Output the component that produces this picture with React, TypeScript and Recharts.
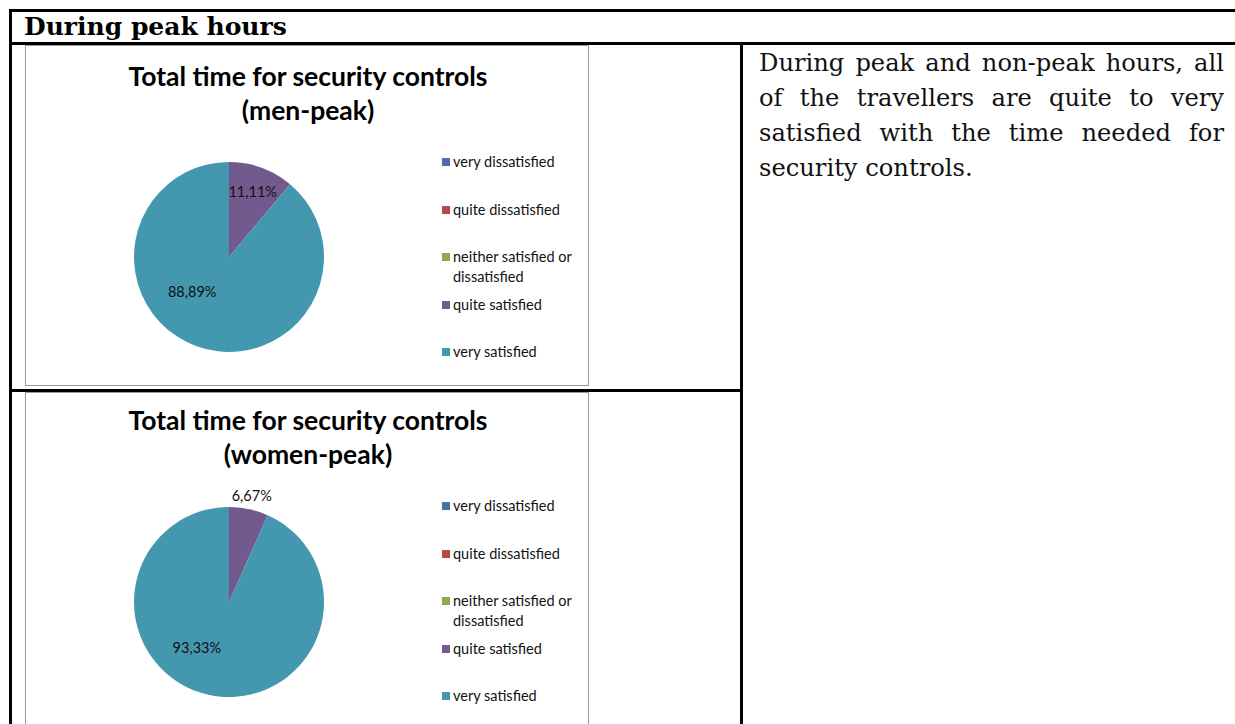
import React from "react";
import { PieChart, Pie, Cell, Legend } from "recharts";

const categories = [
  "very dissatisfied",
  "quite dissatisfied",
  "neither satisfied or dissatisfied",
  "quite satisfied",
  "very satisfied",
];
const menPeak = [0, 0, 0, 11.11, 88.89];
const womenPeak = [0, 0, 0, 6.67, 93.33];
const sliceColors = ["#4A70A8", "#B24744", "#8DAA52", "#725A8F", "#4398B0"];

const RAD = Math.PI / 180;
const calibri = "Lato, 'Open Sans', sans-serif";

type Spot = { angle?: number; radius: number };

const fmt = (v: number) => v.toFixed(2).replace(".", ",") + "%";

// keep legend in the data order (Excel style), not alphabetical
const LegendBox = (props: any) => {
  const payload = [...(props.payload || [])].sort(
    (a: any, b: any) => categories.indexOf(a.value) - categories.indexOf(b.value)
  );
  return (
    <div>
      {payload.map((entry: any) => (
        <div key={entry.value} style={{ height: 47.5, display: "flex", alignItems: "flex-start" }}>
          <span
            style={{ width: 8, height: 8, background: entry.color, marginTop: 6, marginRight: 3, flex: "none" }}
          />
          <span style={{ lineHeight: "19.5px", width: 130 }}>{entry.value}</span>
        </div>
      ))}
    </div>
  );
};

const ChartPanel = ({
  top,
  subtitle,
  values,
  titleTop,
  legendTop,
  cy,
  spots,
}: {
  top: number;
  subtitle: string;
  values: number[];
  titleTop: number;
  legendTop: number;
  cy: number;
  spots: Record<number, Spot>;
}) => {
  const data = categories.map((name, i) => ({ name, value: values[i] }));

  const renderLabel = (p: any) => {
    if (!p.value) return null;
    const spot = spots[p.index];
    const angle = spot.angle ?? p.midAngle;
    const r = p.outerRadius * spot.radius;
    const x = p.cx + r * Math.cos(angle * RAD);
    const y = p.cy - r * Math.sin(angle * RAD);
    return (
      <text
        x={x}
        y={y}
        textAnchor="middle"
        dominantBaseline="central"
        fill="#111"
        fontFamily={calibri}
        fontSize={14.5}
      >
        {fmt(p.value)}
      </text>
    );
  };

  return (
    <div
      style={{
        position: "absolute",
        left: 25,
        top,
        width: 564,
        height: 341,
        border: "1px solid #9a9a9a",
        boxSizing: "border-box",
      }}
    >
      <div
        style={{
          position: "absolute",
          left: 0,
          top: titleTop,
          width: 564,
          textAlign: "center",
          fontFamily: calibri,
          fontWeight: 700,
          fontSize: 26.5,
          lineHeight: "34px",
          color: "#000",
        }}
      >
        <div>Total time for security controls</div>
        <div>{subtitle}</div>
      </div>
      <div style={{ position: "absolute", left: -1, top: -1 }}>
        <PieChart width={564} height={340} margin={{ top: 0, right: 0, bottom: 0, left: 0 }}>
          <Pie
            data={data}
            dataKey="value"
            nameKey="name"
            cx={204}
            cy={cy}
            outerRadius={95}
            startAngle={90}
            endAngle={-270}
            stroke="none"
            label={renderLabel}
            labelLine={false}
            isAnimationActive={false}
          >
            {data.map((d, i) => (
              <Cell key={d.name} fill={sliceColors[i]} />
            ))}
          </Pie>
          <Legend
            layout="vertical"
            align="right"
            verticalAlign="top"
            content={<LegendBox />}
            wrapperStyle={{
              left: 417,
              top: legendTop,
              width: 147,
              fontFamily: calibri,
              fontSize: 14.5,
              color: "#111",
            }}
          />
        </PieChart>
      </div>
    </div>
  );
};

const line = (left: number, top: number, width: number, height: number) => (
  <div style={{ position: "absolute", left, top, width, height, background: "#000" }} />
);

const rightLines = [
  "During peak and non-peak hours, all",
  "of the travellers are quite to very",
  "satisfied with the time needed for",
];

export default function App() {
  return (
    <div
      style={{
        position: "absolute",
        left: 0,
        top: 0,
        width: 1235,
        height: 724,
        overflow: "hidden",
        background: "#fff",
      }}
    >
      {line(9, 9, 1226, 3)}
      {line(9, 9, 3, 715)}
      {line(9, 42, 1226, 3)}
      {line(740, 42, 3, 682)}
      {line(9, 389, 734, 3)}

      <div
        style={{
          position: "absolute",
          left: 24,
          top: 12,
          height: 30,
          lineHeight: "30px",
          fontFamily: "'DejaVu Serif', serif",
          fontWeight: 700,
          fontSize: 25,
          color: "#000",
        }}
      >
        During peak hours
      </div>

      <ChartPanel
        top={45}
        subtitle="(men-peak)"
        values={menPeak}
        titleTop={13}
        legendTop={107}
        cy={212}
        spots={{ 3: { radius: 0.73 }, 4: { angle: -137, radius: 0.53 } }}
      />
      <ChartPanel
        top={392}
        subtitle="(women-peak)"
        values={womenPeak}
        titleTop={10}
        legendTop={104}
        cy={210}
        spots={{ 3: { radius: 1.15 }, 4: { angle: -125, radius: 0.59 } }}
      />

      <div
        style={{
          position: "absolute",
          left: 759,
          top: 46,
          width: 465,
          fontFamily: "'DejaVu Serif', serif",
          fontSize: 24.2,
          lineHeight: "35px",
          color: "#111",
        }}
      >
        {rightLines.map((t) => (
          <div key={t} style={{ textAlign: "justify", textAlignLast: "justify" }}>
            {t}
          </div>
        ))}
        <div>security controls.</div>
      </div>
    </div>
  );
}
